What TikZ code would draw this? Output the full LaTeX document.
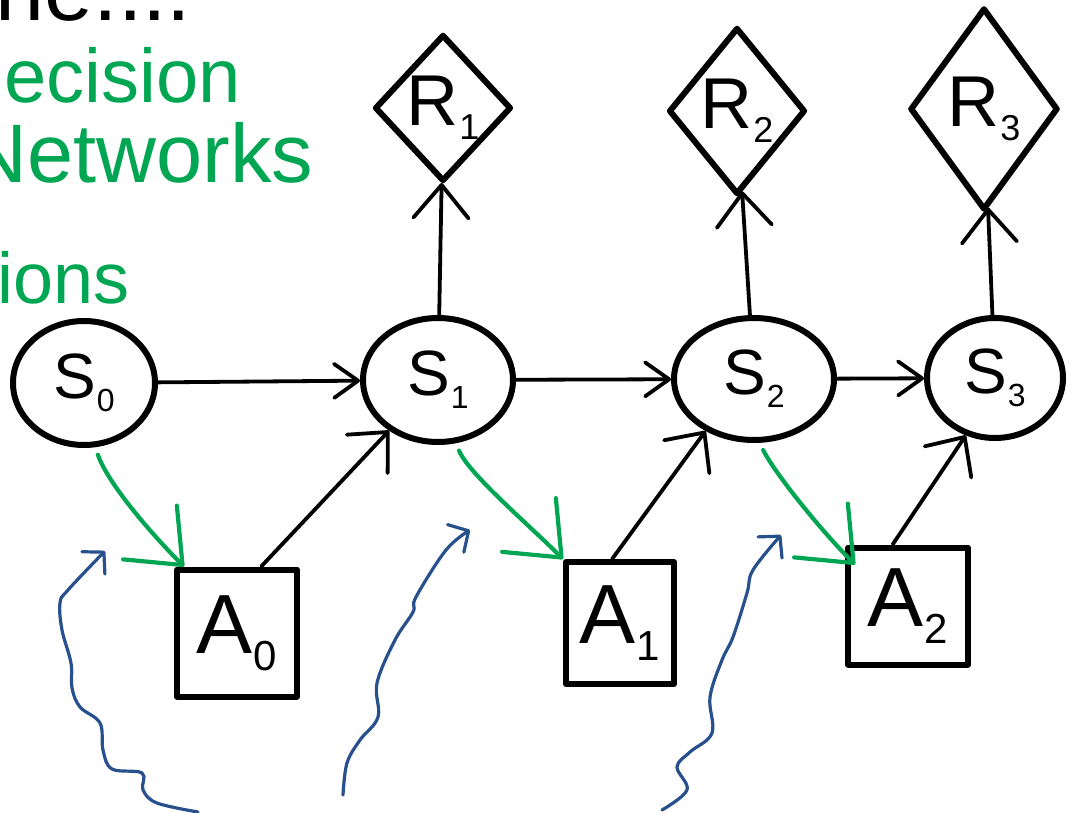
\documentclass[tikz,border=0pt]{standalone}
\usepackage{fontspec}
\usepackage{graphicx}
\setmainfont{Liberation Sans}
\usetikzlibrary{shapes.geometric,arrows.meta,calc}
\definecolor{pgreen}{RGB}{0,166,81}
\definecolor{pblue}{RGB}{40,80,140}
\newcommand{\hlab}[2]{#1\kern0.01em\raisebox{-0.2em}{\scalebox{0.5}{#2}}}
\tikzset{
  shp/.style={draw=black, line width=6pt, inner sep=0pt, line join=round},
  snode/.style={shp, ellipse, font=\fontsize{64}{64}\selectfont},
  anode/.style={shp, rectangle, font=\fontsize{84}{84}\selectfont},
  rnode/.style={shp, diamond, font=\fontsize{72}{72}\selectfont},
  conn/.style={line width=3.8pt, line cap=round, line join=round},
  gconn/.style={conn, draw=pgreen, line width=4.2pt, shorten <=8pt},
  bconn/.style={conn, draw=pblue, line width=3.2pt},
  tipS/.style={-{Straight Barb[length=24pt,width=34pt,round]}},
  tipR/.style={-{Straight Barb[length=33pt,width=55pt,round]}},
  tipA/.style={-{Straight Barb[length=30pt,width=56pt,round]}},
  tipG/.style={-{Straight Barb[length=46pt,width=76pt,round]}},
  tipB/.style={-{Straight Barb[length=15pt,width=32pt,round]}},
  gtext/.style={text=pgreen, inner sep=0pt, anchor=base west},
}
\begin{document}
\begin{tikzpicture}[x=1pt,y=1pt]
\useasboundingbox (0,0) rectangle (1074,-813);
% title (cut off at the top and left, as in the reference)
\node[inner sep=0pt, anchor=base west, font=\fontsize{88}{88}\selectfont] (title) at (-24,-21) {ine....};
% green handwritten notes
\node[gtext, font=\fontsize{76}{76}\selectfont] (g1) at (4,-103) {ecision};
\node[gtext, font=\fontsize{83}{83}\selectfont] (g2) at (-33,-183) {Networks};
\node[gtext, font=\fontsize{72}{72}\selectfont] (g3) at (-3,-303) {ions};
% state nodes
\node[snode, minimum width=142pt, minimum height=124pt] (S0) at (84,-383) {\hlab{S}{0}};
\node[snode, minimum width=150pt, minimum height=124pt] (S1) at (438,-380) {\hlab{S}{1}};
\node[snode, minimum width=160pt, minimum height=122pt] (S2) at (754,-379) {\hlab{S}{2}};
\node[snode, minimum width=136pt, minimum height=120pt] (S3) at (995,-378) {\hlab{S}{3}};
% action nodes
\node[anode, minimum width=120pt, minimum height=127pt] (A0) at (237,-633) {\hlab{A}{0}};
\node[anode, minimum width=108pt, minimum height=122pt] (A1) at (620,-623) {\hlab{A}{1}};
\node[anode, minimum width=120pt, minimum height=117pt] (A2) at (908,-606) {\hlab{A}{2}};
% reward nodes
\node[rnode, minimum width=130pt, minimum height=147pt] (R1) at (443,-108) {\hlab{R}{1}};
\node[rnode, minimum width=127pt, minimum height=167pt] (R2) at (737,-111) {\hlab{R}{2}};
\node[rnode, minimum width=148pt, minimum height=202pt] (R3) at (984,-109) {\hlab{R}{3}};
% state -> reward
\draw[conn, tipR] (S1) -- (R1);
\draw[conn, tipR] (S2) -- (R2);
\draw[conn, tipR] (S3) -- (R3);
% state -> state
\draw[conn, tipS] (S0) -- (S1);
\draw[conn, tipS] (S1) -- (S2);
\draw[conn, tipS] (S2) -- (S3);
% action -> state
\draw[conn, tipA] (A0.70) -- (S1.226);
\draw[conn, tipA] (A1.97) -- (S2.227);
\draw[conn, tipA] (A2.104) -- (S3.243);
% state -> action (green)
\draw[gconn, tipG] (S0.280) .. controls +(12,-35) and +(-35,35) .. ($(A0.north west)+(10,0)$);
\draw[gconn, tipG] (S1.286) .. controls +(12,-30) and +(-35,35) .. (A1.north west);
\draw[gconn, tipG] (S2.275) .. controls +(15,-30) and +(-35,35) .. ($(A2.north west)+(10,-20)$);
% blue wavy arrows
\draw[bconn, tipB] plot[smooth, tension=0.6] coordinates {(198,-812) (157,-803) (143,-790) (142,-773) (112,-769) (103,-750) (100,-723) (80,-707) (72,-688) (71,-663) (62,-630) (60,-603) (68,-590) (105,-551)};
\draw[bconn, tipB] plot[smooth, tension=0.6] coordinates {(343,-795) (347,-763) (360,-740) (378,-717) (377,-683) (395,-640) (413,-612) (416,-597) (446,-550) (470,-530)};
\draw[bconn, tipB] plot[smooth, tension=0.6] coordinates {(662,-810) (687,-790) (677,-767) (690,-752) (712,-733) (710,-697) (722,-660) (733,-637) (747,-593) (753,-570) (781,-535)};
\end{tikzpicture}
\end{document}
